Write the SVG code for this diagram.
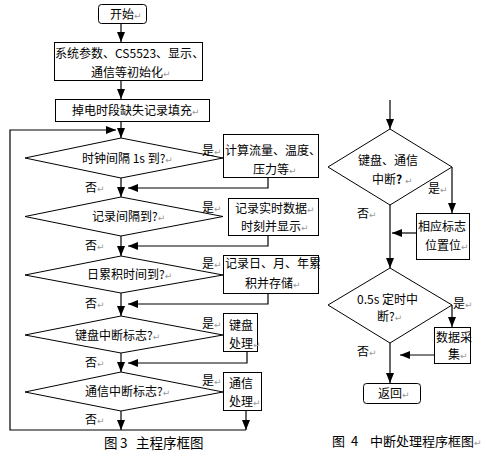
<svg xmlns="http://www.w3.org/2000/svg" width="486" height="456" viewBox="0 0 486 456">
<style>
text{font-family:"Noto Sans CJK SC","DejaVu Sans",sans-serif;font-size:12px;fill:#000}
.cap{font-size:13.5px}
.cap4{font-size:13px}
.pm{fill:#9a9a9a;font-size:9px;font-family:"DejaVu Sans",sans-serif}
.shape{fill:#fff;stroke:#000;stroke-width:1}
.ln{fill:none;stroke:#000;stroke-width:1.2}
</style>
<defs>
<marker id="ah" markerUnits="userSpaceOnUse" markerWidth="10" markerHeight="10" viewBox="0 0 10 10" refX="10" refY="5" orient="auto">
<path d="M0,1 L10,5 L0,9 Z" fill="#000"/>
</marker>
</defs>
<rect width="486" height="456" fill="#fff"/>

<g id="connectors">
<line class="ln" x1="121" y1="24" x2="121" y2="42" marker-end="url(#ah)"/>
<line class="ln" x1="121" y1="81" x2="121" y2="99" marker-end="url(#ah)"/>
<line class="ln" x1="121" y1="121" x2="121" y2="138" marker-end="url(#ah)"/>
<polyline class="ln" points="121,430 10,430 10,130 116,130" marker-end="url(#ah)"/>
<line class="ln" x1="121" y1="178" x2="121" y2="197" marker-end="url(#ah)"/>
<polyline class="ln" points="268,178 268,188 128,188" marker-end="url(#ah)"/>
<line class="ln" x1="121" y1="236" x2="121" y2="256" marker-end="url(#ah)"/>
<polyline class="ln" points="268,235 268,246 128,246" marker-end="url(#ah)"/>
<line class="ln" x1="121" y1="293" x2="121" y2="316" marker-end="url(#ah)"/>
<polyline class="ln" points="268,293 268,304 128,304" marker-end="url(#ah)"/>
<line class="ln" x1="121" y1="353" x2="121" y2="372" marker-end="url(#ah)"/>
<polyline class="ln" points="247,352 247,363 128,363" marker-end="url(#ah)"/>
<line class="ln" x1="121" y1="411" x2="121" y2="430" marker-end="url(#ah)"/>
<line class="ln" x1="246" y1="411" x2="246" y2="430" marker-end="url(#ah)"/>
<line class="ln" x1="246" y1="430" x2="121" y2="430"/>

<line class="ln" x1="390" y1="100" x2="390" y2="129" marker-end="url(#ah)"/>
<polyline class="ln" points="452,167 452,213" marker-end="url(#ah)"/>
<line class="ln" x1="416" y1="233" x2="392" y2="233" marker-end="url(#ah)"/>
<line class="ln" x1="390" y1="205" x2="390" y2="268" marker-end="url(#ah)"/>
<polyline class="ln" points="452,305 452,327" marker-end="url(#ah)"/>
<line class="ln" x1="434" y1="355" x2="400" y2="355" marker-end="url(#ah)"/>
<line class="ln" x1="390" y1="343" x2="390" y2="383" marker-end="url(#ah)"/>
</g>

<g id="start">
<rect class="shape" x="98.5" y="4.5" width="48" height="19" rx="3"/>
<text x="110" y="19">开始<tspan class="pm">↵</tspan></text>
</g>
<g id="init">
<rect class="shape" x="54.5" y="42.5" width="148" height="38"/>
<text x="55" y="58">系统参数、CS5523、显示、</text>
<text x="91" y="77">通信等初始化<tspan class="pm">↵</tspan></text>
</g>
<g id="fill">
<rect class="shape" x="55.5" y="99.5" width="154" height="22"/>
<text x="72" y="115">掉电时段缺失记录填充<tspan class="pm">↵</tspan></text>
</g>

<g id="d1">
<polygon class="shape" points="121,138 223,158 121,178 25,158"/>
<text x="82" y="163">时钟间隔 1s 到?<tspan class="pm">↵</tspan></text>
<text x="202" y="155">是<tspan class="pm">↵</tspan></text>
<text x="85" y="192">否<tspan class="pm">↵</tspan></text>
</g>
<g id="b1">
<rect class="shape" x="223.5" y="134.5" width="95" height="43"/>
<text x="225" y="155">计算流量、温度、</text>
<text x="253" y="174">压力等<tspan class="pm">↵</tspan></text>
</g>

<g id="d2">
<polygon class="shape" points="121,197 223,216.5 121,236 25,216.5"/>
<text x="92" y="221">记录间隔到?<tspan class="pm">↵</tspan></text>
<text x="202" y="212">是<tspan class="pm">↵</tspan></text>
<text x="85" y="250">否<tspan class="pm">↵</tspan></text>
</g>
<g id="b2">
<rect class="shape" x="228.5" y="198.5" width="90" height="37"/>
<text x="235" y="213">记录实时数据<tspan class="pm">↵</tspan></text>
<text x="241" y="231">时刻并显示<tspan class="pm">↵</tspan></text>
</g>

<g id="d3">
<polygon class="shape" points="121,256 223,275 121,293 25,275"/>
<text x="87" y="279">日累积时间到?<tspan class="pm">↵</tspan></text>
<text x="202" y="268">是<tspan class="pm">↵</tspan></text>
<text x="85" y="308">否<tspan class="pm">↵</tspan></text>
</g>
<g id="b3">
<rect class="shape" x="223.5" y="255.5" width="95" height="38"/>
<text x="225" y="268">记录日、月、年累</text>
<text x="245" y="288">积并存储<tspan class="pm">↵</tspan></text>
</g>

<g id="d4">
<polygon class="shape" points="121,316 223,335 121,353 25,335"/>
<text x="75" y="340">键盘中断标志?<tspan class="pm">↵</tspan></text>
<text x="202" y="328">是<tspan class="pm">↵</tspan></text>
<text x="85" y="367">否<tspan class="pm">↵</tspan></text>
</g>
<g id="b4">
<rect class="shape" x="223.5" y="313.5" width="34" height="38"/>
<text x="229" y="330">键盘</text>
<text x="229" y="348">处理<tspan class="pm">↵</tspan></text>
</g>

<g id="d5">
<polygon class="shape" points="121,372 223,392 121,411 25,392"/>
<text x="85" y="396">通信中断标志?<tspan class="pm">↵</tspan></text>
<text x="202" y="385">是<tspan class="pm">↵</tspan></text>
<text x="85" y="424">否<tspan class="pm">↵</tspan></text>
</g>
<g id="b5">
<rect class="shape" x="223.5" y="372.5" width="38" height="38"/>
<text x="229" y="388">通信</text>
<text x="229" y="406">处理<tspan class="pm">↵</tspan></text>
</g>

<g id="cap3">
<text class="cap" y="448"><tspan x="104">图</tspan><tspan x="120">3</tspan><tspan x="136">主程序框图</tspan></text>
</g>

<g id="dA">
<polygon class="shape" points="390,129 452,167 390,205 328,167"/>
<text x="358" y="165">键盘、通信</text>
<text x="372" y="184">中断<tspan font-weight="bold">?</tspan><tspan class="pm"> ↵</tspan></text>
<text x="428" y="193">是<tspan class="pm">↵</tspan></text>
<text x="357" y="218">否<tspan class="pm">↵</tspan></text>
</g>
<g id="bA">
<rect class="shape" x="416.5" y="213.5" width="53" height="46"/>
<text x="418" y="231">相应标志</text>
<text x="425" y="250">位置位<tspan class="pm">↵</tspan></text>
</g>

<g id="dB">
<polygon class="shape" points="390,268 452,305 390,343 328,305"/>
<text x="357" y="304">0.5s 定时中</text>
<text x="377" y="321">断?<tspan class="pm">↵</tspan></text>
<text x="453" y="308">是<tspan class="pm">↵</tspan></text>
<text x="357" y="356">否<tspan class="pm">↵</tspan></text>
</g>
<g id="bB">
<rect class="shape" x="434.5" y="327.5" width="36" height="36"/>
<text x="436" y="342">数据采</text>
<text x="448" y="359">集<tspan class="pm">↵</tspan></text>
</g>
<g id="ret">
<rect class="shape" x="363.5" y="383.5" width="57" height="20" rx="3"/>
<text x="378" y="398">返回<tspan class="pm">↵</tspan></text>
</g>
<g id="cap4">
<text class="cap4" y="446"><tspan x="332">图</tspan><tspan x="351">4</tspan><tspan x="370">中断处理程序框图</tspan><tspan class="pm">↵</tspan></text>
</g>
</svg>
